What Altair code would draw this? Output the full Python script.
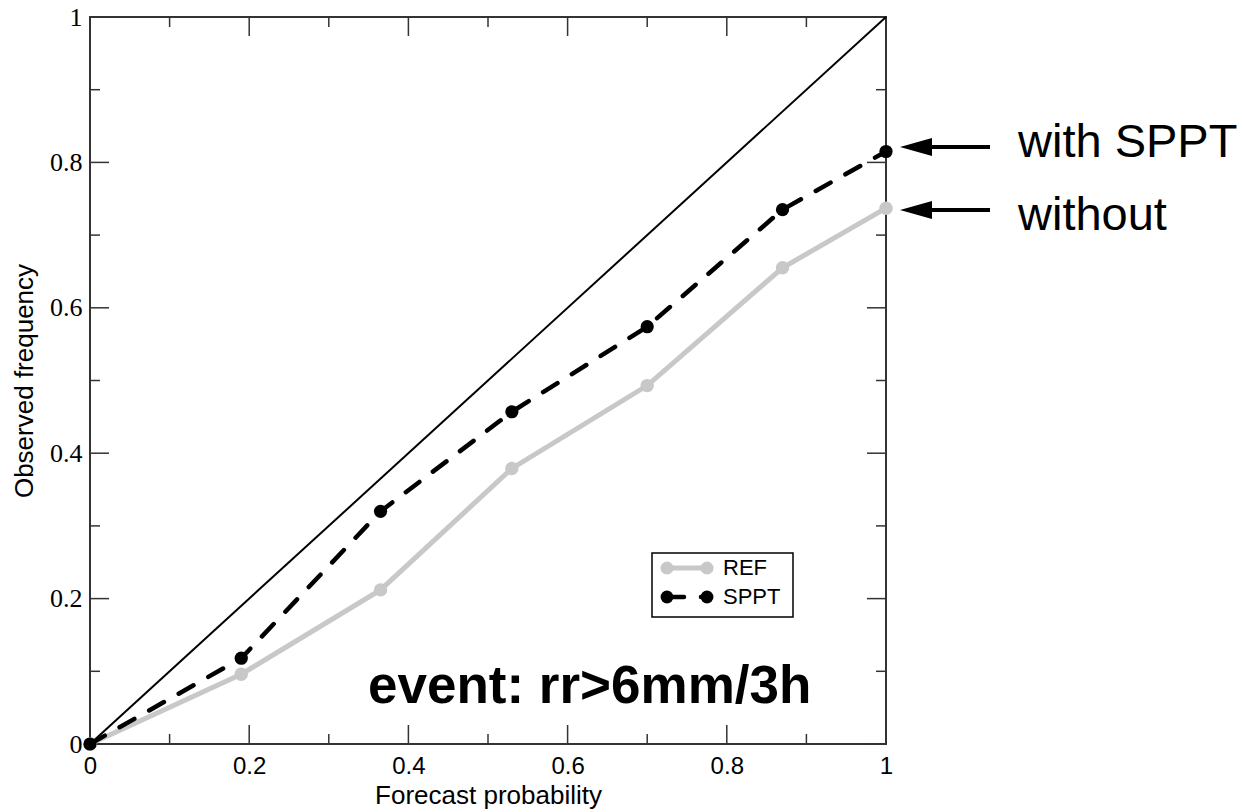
import altair as alt
import pandas as pd

# ---- data ----
prob = [0.0, 0.19, 0.365, 0.53, 0.70, 0.87, 1.0]
ref_freq = [0.0, 0.096, 0.212, 0.379, 0.493, 0.655, 0.737]
sppt_freq = [0.0, 0.118, 0.320, 0.457, 0.574, 0.735, 0.815]
diag = [0.0, 1.0]
major_ticks = [0.0, 0.2, 0.4, 0.6, 0.8, 1.0]
minor_ticks = [0.1, 0.3, 0.5, 0.7, 0.9]
legend_labels = ["REF", "SPPT"]
annotations = ["with SPPT", "without"]
event_label = ["event: rr>6mm/3h"]

W, H = 796, 727
GREY = "#c8c8c8"
SANS = "Liberation Sans"
SERIF = "Liberation Serif"

xs = alt.Scale(domain=[0, 1], nice=False, zero=False)
ys = alt.Scale(domain=[0, 1], nice=False, zero=False)

AX = alt.Axis(values=major_ticks, format="~g", ticks=False, domain=False, grid=False,
              labelFont=SANS, labelFontSize=24, labelColor="black", labelPadding=10,
              labelFlush=False, title="Forecast probability", titleFont=SANS,
              titleFontSize=26, titleFontWeight="normal", titleColor="black", titlePadding=4)
AY = alt.Axis(values=major_ticks, format="~g", ticks=False, domain=False, grid=False,
              labelFont=SERIF, labelFontSize=26, labelColor="black", labelPadding=8,
              labelFlush=False, title="Observed frequency", titleFont=SANS,
              titleFontSize=26, titleFontWeight="normal", titleColor="black", titlePadding=12)

ref_df = pd.DataFrame({"p": prob, "f": ref_freq})
sppt_df = pd.DataFrame({"p": prob, "f": sppt_freq})
diag_df = pd.DataFrame({"p": diag, "f": diag})
maj_df = pd.DataFrame({"t": major_ticks})
min_df = pd.DataFrame({"t": minor_ticks})

X = alt.X("p:Q", scale=xs, axis=AX)
Y = alt.Y("f:Q", scale=ys, axis=AY)
XT = alt.X("t:Q", scale=xs, axis=AX)
YT = alt.Y("t:Q", scale=ys, axis=AY)

layers = []

# inside ticks on all four sides
for df, L in ((maj_df, 19), (min_df, 10)):
    base = alt.Chart(df).mark_rule(color="#333", strokeWidth=1.5)
    layers.append(base.encode(x=XT, y=alt.value(H), y2=alt.value(H - L)))
    layers.append(base.encode(x=XT, y=alt.value(0), y2=alt.value(L)))
    layers.append(base.encode(y=YT, x=alt.value(0), x2=alt.value(L)))
    layers.append(base.encode(y=YT, x=alt.value(W), x2=alt.value(W - L)))

# diagonal
layers.append(alt.Chart(diag_df).mark_line(color="black", strokeWidth=2).encode(x=X, y=Y))

# REF
layers.append(alt.Chart(ref_df).mark_line(color=GREY, strokeWidth=5).encode(x=X, y=Y))
layers.append(alt.Chart(ref_df).mark_circle(color=GREY, size=180, opacity=1).encode(x=X, y=Y))

# SPPT
layers.append(alt.Chart(sppt_df).mark_line(color="black", strokeWidth=4.5, strokeDash=[17, 17],
                                           strokeCap="round").encode(x=X, y=Y))
layers.append(alt.Chart(sppt_df).mark_circle(color="black", size=175, opacity=1).encode(x=X, y=Y))

# legend box
one = pd.DataFrame({"k": [0]})
layers.append(alt.Chart(one).mark_rect(fill="white", stroke="black", strokeWidth=1.5).encode(
    x=alt.value(562), x2=alt.value(703), y=alt.value(536), y2=alt.value(600)))
# legend REF
layers.append(alt.Chart(one).mark_rule(color=GREY, strokeWidth=5).encode(
    x=alt.value(577), x2=alt.value(617), y=alt.value(551)))
for xv in (577, 617):
    layers.append(alt.Chart(one).mark_circle(color=GREY, size=170, opacity=1).encode(
        x=alt.value(xv), y=alt.value(551)))
# legend SPPT
layers.append(alt.Chart(one).mark_rule(color="black", strokeWidth=4.5, strokeDash=[17, 17],
                                       strokeCap="round").encode(
    x=alt.value(577), x2=alt.value(617), y=alt.value(580)))
for xv in (577, 617):
    layers.append(alt.Chart(one).mark_circle(color="black", size=165, opacity=1).encode(
        x=alt.value(xv), y=alt.value(580)))
for lab, yv in zip(legend_labels, (551, 580)):
    layers.append(alt.Chart(pd.DataFrame({"label": [lab]})).mark_text(
        font=SANS, fontSize=22, align="left", baseline="middle", color="black").encode(
        x=alt.value(633), y=alt.value(yv), text="label:N"))

# event text
layers.append(alt.Chart(pd.DataFrame({"label": event_label})).mark_text(
    font=SANS, fontSize=53, fontWeight="bold", align="left", baseline="alphabetic",
    color="black").encode(x=alt.value(278), y=alt.value(686), text="label:N"))

# arrows and annotations
arrow_path = "M -1 0 L 1 -0.56 L 1 0.56 Z"
for lab, ay, ty in zip(annotations, (130, 193), (140, 213)):
    layers.append(alt.Chart(one).mark_rule(color="black", strokeWidth=4).encode(
        x=alt.value(836), x2=alt.value(900), y=alt.value(ay)))
    layers.append(alt.Chart(one).mark_point(shape=arrow_path, size=1024, filled=True,
                                            color="black", opacity=1, strokeWidth=0).encode(
        x=alt.value(826), y=alt.value(ay)))
    layers.append(alt.Chart(pd.DataFrame({"label": [lab]})).mark_text(
        font=SANS, fontSize=47, align="left", baseline="alphabetic", color="black").encode(
        x=alt.value(928), y=alt.value(ty), text="label:N"))

chart = alt.layer(*layers).properties(
    width=W, height=H,
    autosize=alt.AutoSizeParams(type="none"),
    padding={"left": 90, "top": 17, "right": 1244 - 90 - W, "bottom": 812 - 17 - H},
    background="white",
).configure_view(stroke="#333", strokeWidth=2)

chart.save("out.html", embed_options={"renderer": "svg", "actions": False})
